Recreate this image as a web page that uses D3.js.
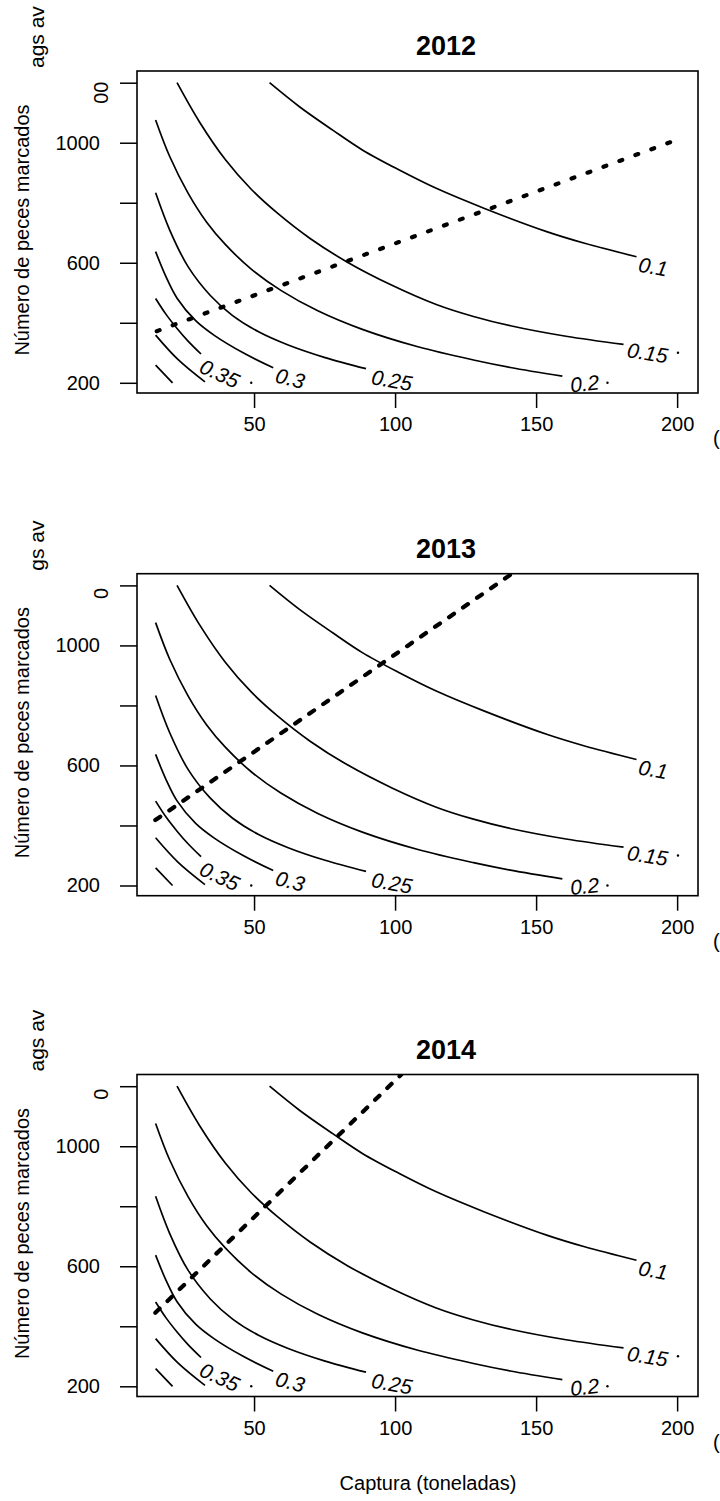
<!DOCTYPE html>
<html>
<head>
<meta charset="utf-8">
<script src="https://cdn.jsdelivr.net/npm/d3@7"></script>
<style>
  body { margin: 0; background: #fff; }
  svg { display: block; }
</style>
</head>
<body>
<div id="chart"></div>
<script>
// catch (t) vs tagged fish, exploitation-rate contours, one panel per year
const years = ["2012", "2013", "2014"];
const xTicks = [50, 100, 150, 200];
const yTicks = [200, 400, 600, 800, 1000, 1200];
const yTickLabels = ["200", "", "600", "", "1000", ""];

// contour lines [catch, tags] (same in every panel)
const iso010 = [[55.5,1200],[66.1,1120],[77.9,1042],[88.4,976],[101.5,909],[114.6,848],[131.7,781],[154,703],[167.2,665],[185.6,620]];
const iso015 = [[22.7,1200],[30.6,1070],[39.8,944],[49,845],[58.2,766],[70,680],[83.1,602],[98.9,525],[114.6,461],[127.8,421],[140.9,390],[160.6,355],[181,328]];
const iso020 = [[15.1,1076],[20.1,954],[26.6,832],[33.2,735],[39.8,661],[49,579],[59.5,508],[72.6,440],[88.4,378],[108.1,320],[127.8,276],[140.9,251],[159.3,222]];
const iso025 = [[15.1,833],[20.1,709],[26.6,587],[34.5,491],[42.4,424],[51.6,370],[62.1,326],[75.2,284],[89.7,247]];
const iso030 = [[15.1,637],[18.8,553],[22.7,482],[29.3,407],[35.9,358],[46.3,299],[56.8,250]];
const iso035 = [[15.1,481],[18.8,428],[22.7,381],[26.6,339],[31.2,296]];
const iso040 = [[15.1,359],[23,278],[32.6,203]];
const iso045 = [[15.1,259],[21.1,200]];
const contours = [iso010, iso015, iso020, iso025, iso030, iso035, iso040, iso045];

// what is left of a line after its label
const contourTails = [[49,200],[175.3,200],[200.3,300]];

const levelLabels = ["0.1", "0.15", "0.2", "0.25", "0.3", "0.35"];
const levelLabelPos = [[191.5,587],[189.5,300],[167.2,198],[98.9,209],[62.8,215],[37.8,231]];
const levelLabelAngle = [10, 9, -6, 10, 14, 25];

// dotted reference line per year
const ref2012 = [[15.5,372],[200,1010]];
const ref2013 = [[15,418],[141.6,1240]];
const ref2014 = [[15,445],[102.2,1239]];
const refLines = [ref2012, ref2013, ref2014];

const W = 720, H = 1501;
const font = "'Liberation Sans', Arial, Helvetica, sans-serif";
const panelTop = [0, 502.7, 1003.5];
const refDash = ["3,14", "6,11", "6,11"];

const svg = d3.select("#chart").append("svg")
  .attr("width", W)
  .attr("height", H)
  .style("font-family", font);

svg.append("rect").attr("width", W).attr("height", H).attr("fill", "#fff");

const x = d3.scaleLinear().domain([8.5, 207.4]).range([137, 698]);

years.forEach((yr, i) => {
  const off = panelTop[i];
  const y = d3.scaleLinear().domain([166, 1239]).range([393 + off, 71 + off]);
  const g = svg.append("g");

  const clipId = "clip" + i;
  svg.append("clipPath").attr("id", clipId)
    .append("rect")
    .attr("x", 137).attr("y", 71 + off)
    .attr("width", 561).attr("height", 322);

  // stray fragment of another label, top left
  g.append("text")
    .attr("transform", `translate(44,${off + 68}) rotate(-90)`)
    .attr("font-size", 21)
    .text(i === 1 ? "gs av" : "ags av");

  // y axis title
  g.append("text")
    .attr("transform", `translate(29,${off + 230}) rotate(-90)`)
    .attr("text-anchor", "middle")
    .attr("font-size", 20)
    .text("Número de peces marcados");

  // title
  g.append("text")
    .attr("x", 446).attr("y", off + 55)
    .attr("text-anchor", "middle")
    .attr("font-size", 27)
    .attr("font-weight", "bold")
    .text(yr);

  // axes
  const xAxis = g.append("g")
    .attr("transform", `translate(0,${393 + off})`)
    .call(d3.axisBottom(x).tickValues(xTicks).tickSize(15).tickPadding(9));
  xAxis.select(".domain").remove();
  xAxis.selectAll("line").attr("stroke", "#000").attr("stroke-width", 1.5);
  xAxis.selectAll("text").attr("font-size", 20).attr("font-family", font).attr("fill", "#000");

  const yAxis = g.append("g")
    .attr("transform", "translate(137,0)")
    .call(d3.axisLeft(y).tickValues(yTicks).tickSize(17).tickPadding(20)
      .tickFormat((d, k) => yTickLabels[k]));
  yAxis.select(".domain").remove();
  yAxis.selectAll("line").attr("stroke", "#000").attr("stroke-width", 1.5);
  yAxis.selectAll("text").attr("font-size", 20).attr("font-family", font).attr("fill", "#000");

  // half hidden top tick label
  g.append("text")
    .attr("transform", `translate(101,${y(1200) + (i === 0 ? 10 : 8)}) rotate(-90)`)
    .attr("text-anchor", "middle")
    .attr("dominant-baseline", "central")
    .attr("font-size", 20)
    .text(i === 0 ? "00" : "0");

  // cut-off character at right edge
  g.append("text")
    .attr("x", 713).attr("y", off + 445)
    .attr("font-size", 20)
    .text("(");

  // contours
  const line = d3.line().x(d => x(d[0])).y(d => y(d[1])).curve(d3.curveCatmullRom.alpha(0.5));
  g.append("g").selectAll("path")
    .data(contours)
    .enter()
    .append("path")
    .attr("d", line)
    .attr("fill", "none")
    .attr("stroke", "#000")
    .attr("stroke-width", 1.7);

  g.append("g").selectAll("circle")
    .data(contourTails)
    .enter()
    .append("circle")
    .attr("cx", d => x(d[0]))
    .attr("cy", d => y(d[1]))
    .attr("r", 1.2)
    .attr("fill", "#000");

  g.append("g").selectAll("text")
    .data(levelLabels)
    .enter()
    .append("text")
    .attr("transform", (d, k) => `translate(${x(levelLabelPos[k][0])},${y(levelLabelPos[k][1])}) rotate(${levelLabelAngle[k]})`)
    .attr("text-anchor", "middle")
    .attr("dominant-baseline", "central")
    .attr("font-size", 21)
    .attr("font-style", "italic")
    .text(d => d);

  // dotted reference line
  g.append("path")
    .datum(refLines[i])
    .attr("clip-path", `url(#${clipId})`)
    .attr("d", d3.line().x(d => x(d[0])).y(d => y(d[1])))
    .attr("fill", "none")
    .attr("stroke", "#000")
    .attr("stroke-width", 4.2)
    .attr("stroke-linecap", "round")
    .attr("stroke-dasharray", refDash[i]);

  // box
  g.append("rect")
    .attr("x", 137).attr("y", 71 + off)
    .attr("width", 561).attr("height", 322)
    .attr("fill", "none")
    .attr("stroke", "#000")
    .attr("stroke-width", 1.6);
});

svg.append("text")
  .attr("x", 428).attr("y", 1490)
  .attr("text-anchor", "middle")
  .attr("font-size", 20)
  .text("Captura (toneladas)");
</script>
</body>
</html>
